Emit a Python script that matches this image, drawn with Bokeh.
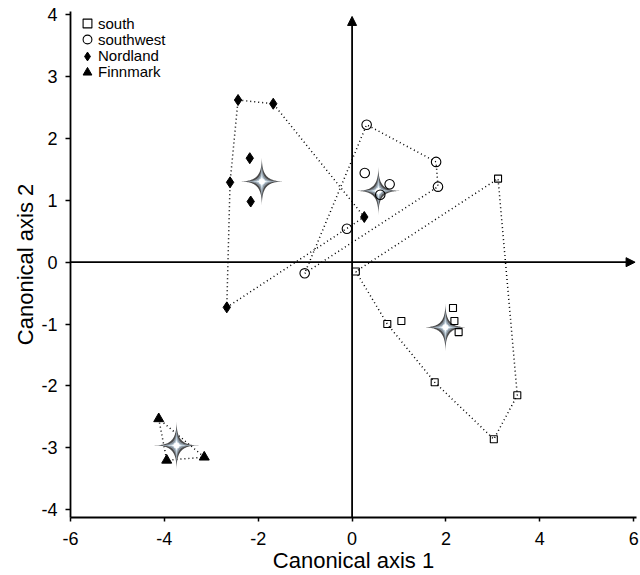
import numpy as np
from bokeh.plotting import figure
from bokeh.models import Legend, LegendItem, Arrow, NormalHead, FixedTicker, Range1d
from bokeh.embed import file_html
from bokeh.resources import INLINE

# ---------------- data ----------------
groups = ["south", "southwest", "Nordland", "Finnmark"]

south_x = [0.08, 3.11, 0.75, 1.05, 2.15, 2.18, 2.27, 1.76, 3.52, 3.02]
south_y = [-0.15, 1.35, -1.00, -0.95, -0.74, -0.95, -1.13, -1.94, -2.15, -2.86]

southwest_x = [0.31, 1.79, 1.83, 0.27, 0.80, -0.11, -1.01, 0.60]
southwest_y = [2.22, 1.62, 1.22, 1.44, 1.26, 0.54, -0.18, 1.09]

nordland_x = [-2.43, -1.68, -2.18, -2.60, -2.16, 0.26, -2.67]
nordland_y = [2.62, 2.56, 1.68, 1.29, 0.98, 0.73, -0.73]

finnmark_x = [-4.12, -3.95, -3.15]
finnmark_y = [-2.53, -3.20, -3.15]

x_ticks = [-6, -4, -2, 0, 2, 4, 6]
y_ticks = [-4, -3, -2, -1, 0, 1, 2, 3, 4]
x_label = "Canonical axis 1"
y_label = "Canonical axis 2"

# ---------------- layout ----------------
W, H = 640, 575
BL, BR, BT, BB = 70, 4, 11, 57
X0, X1 = -6.0, 6.06
Y0, Y1 = -4.125, 4.05
FRAME_W = W - BL - BR
FRAME_H = H - BT - BB
ux = (X1 - X0) / FRAME_W   # data units per px
uy = (Y1 - Y0) / FRAME_H

FONT = "Liberation Sans"

p = figure(width=W, height=H, x_range=Range1d(X0, X1), y_range=Range1d(Y0, Y1),
           output_backend="svg", toolbar_location=None,
           min_border_left=BL, min_border_right=BR, min_border_top=BT, min_border_bottom=BB)
p.background_fill_color = "white"
p.border_fill_color = "white"
p.outline_line_color = None
p.xgrid.visible = False
p.ygrid.visible = False

for ax, ticks, lab, tout, stand in ((p.xaxis[0], x_ticks, x_label, 4, 10),
                                    (p.yaxis[0], y_ticks, y_label, 5, 8)):
    ax.ticker = FixedTicker(ticks=ticks)
    ax.major_label_overrides = {t: str(t) for t in ticks}
    ax.axis_label = lab
    ax.axis_label_text_font = FONT
    ax.axis_label_text_font_size = "22px"
    ax.axis_label_text_font_style = "normal"
    ax.axis_label_text_color = "black"
    ax.axis_label_standoff = 0
    ax.major_label_text_font = FONT
    ax.major_label_text_font_size = "18px"
    ax.major_label_text_color = "black"
    ax.major_label_standoff = stand
    ax.major_tick_out = tout
    ax.major_tick_in = 0
    ax.minor_tick_out = 0
    ax.minor_tick_in = 0
    ax.axis_line_width = 1.8
    ax.axis_line_color = "black"
    ax.major_tick_line_width = 1.5
    ax.major_tick_line_color = "black"


def hull(xs, ys):
    pts = sorted(set(zip(xs, ys)))
    if len(pts) < 3:
        return pts

    def cross(o, a, b):
        return (a[0] - o[0]) * (b[1] - o[1]) - (a[1] - o[1]) * (b[0] - o[0])
    lower, upper = [], []
    for pt in pts:
        while len(lower) >= 2 and cross(lower[-2], lower[-1], pt) <= 0:
            lower.pop()
        lower.append(pt)
    for pt in reversed(pts):
        while len(upper) >= 2 and cross(upper[-2], upper[-1], pt) <= 0:
            upper.pop()
        upper.append(pt)
    return lower[:-1] + upper[:-1]


data = [(south_x, south_y), (southwest_x, southwest_y),
        (nordland_x, nordland_y), (finnmark_x, finnmark_y)]

# dotted convex hulls
for xs, ys in data:
    h = hull(xs, ys)
    hx = [q[0] for q in h] + [h[0][0]]
    hy = [q[1] for q in h] + [h[0][1]]
    p.line(hx, hy, line_color="black", line_width=1.5, line_dash="1 3")

# centroid stars
cx = [float(np.mean(xs)) for xs, ys in data]
cy = [float(np.mean(ys)) for xs, ys in data]
t = np.linspace(0, 2 * np.pi, 241)
cu, su = np.cos(t), np.sin(t)


def star(x, y, hw, hh, k):
    dx = np.sign(cu) * np.abs(cu) ** k * hw * ux
    dy = np.sign(su) * np.abs(su) ** k * hh * uy
    return list(x + dx), list(y + dy)


layers = [(24, 26, 4.6, "#4a4a4a"), (22, 24, 5.2, "#8a949e"),
          (17, 19, 5.6, "#b9cad6"), (11, 12, 5.8, "#e2eff7"), (6, 6, 4.0, "#ffffff")]
for hw, hh, k, col in layers:
    xs_l, ys_l = [], []
    for x, y in zip(cx, cy):
        a, b = star(x, y, hw, hh, k)
        xs_l.append(a)
        ys_l.append(b)
    p.patches(xs_l, ys_l, fill_color=col, line_color=None)
p.scatter(cx, cy, marker="circle", size=6, fill_color="white", line_color=None, fill_alpha=0.9)

# points
r_s = p.scatter(south_x, south_y, marker="square", size=7, fill_color=None,
                line_color="black", line_width=1.1)
r_sw = p.scatter(southwest_x, southwest_y, marker="circle", size=9.5, fill_color=None,
                 line_color="black", line_width=1.1)
r_n = p.scatter(nordland_x, nordland_y, marker="diamond", size=11, fill_color="black",
                line_color="black")
r_f = p.scatter(finnmark_x, finnmark_y, marker="triangle", size=10, fill_color="black",
                line_color="black")

# central axes with arrows
p.add_layout(Arrow(x_start=0, y_start=Y0, x_end=0, y_end=3.97, line_width=1.8,
                   line_color="black",
                   end=NormalHead(size=9, fill_color="black", line_color="black")))
p.add_layout(Arrow(x_start=X0, y_start=0, x_end=6.03, y_end=0, line_width=1.8,
                   line_color="black",
                   end=NormalHead(size=9, fill_color="black", line_color="black")))

# legend: one single-item legend per row so that rows can sit closer than the glyph box
ROW0, PITCH, GL = 13, 16.3, 22
for i, (g, r) in enumerate(zip(groups, [r_s, r_sw, r_n, r_f])):
    lg = Legend(items=[LegendItem(label=g, renderers=[r])],
                location=(6, FRAME_H - (ROW0 + GL / 2 + PITCH * i)),
                glyph_width=GL, glyph_height=GL, padding=0, margin=0, label_standoff=0,
                label_text_font=FONT, label_text_font_size="15px",
                label_text_color="black",
                border_line_color=None, background_fill_alpha=0)
    p.add_layout(lg)

open("out.html", "w").write(file_html(p, INLINE))
